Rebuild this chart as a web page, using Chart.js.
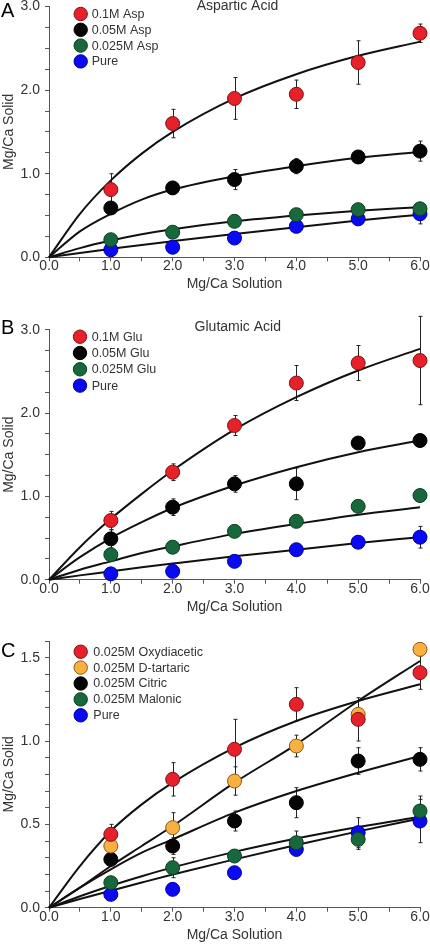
<!DOCTYPE html>
<html><head><meta charset="utf-8">
<script src="https://cdn.jsdelivr.net/npm/chart.js@4.4.1/dist/chart.umd.min.js"></script>
<style>
html,body{margin:0;padding:0;background:#fff;width:430px;height:944px;overflow:hidden;position:relative;font-family:"Liberation Sans",Arial,sans-serif;}
canvas{position:absolute;left:0;}
.lbl{position:absolute;left:1px;font-size:20px;line-height:20px;color:#000;z-index:5;}
</style></head><body>
<canvas id="cA" width="430" height="310" style="top:-10px;width:430px;height:310px"></canvas>
<canvas id="cB" width="430" height="320" style="top:300px;width:430px;height:320px"></canvas>
<canvas id="cC" width="430" height="324" style="top:620px;width:430px;height:324px"></canvas>
<div class="lbl" style="top:0px">A</div>
<div class="lbl" style="top:317px">B</div>
<div class="lbl" style="top:640px">C</div>
<script>
// ---------- shared axis values ----------
const xVals = [1, 2, 3, 4, 5, 6];
const fitX = [0, 0.5, 1, 1.5, 2, 3, 4, 5, 6];
const xAxisTitle = 'Mg/Ca Solution';
const yAxisTitle = 'Mg/Ca Solid';

// ---------- Panel A: Aspartic Acid ----------
const titleA = 'Aspartic Acid';
const labelsA = ['0.1M Asp', '0.05M Asp', '0.025M Asp', 'Pure'];
const asp01 = [0.81, 1.60, 1.90, 1.95, 2.33, 2.68];
const asp01Err = [0.19, 0.17, 0.25, 0.17, 0.26, 0.11];
const asp01Fit = [0, 0.52, 0.92, 1.24, 1.50, 1.90, 2.19, 2.41, 2.58];
const asp005 = [0.59, 0.83, 0.93, 1.09, 1.20, 1.27];
const asp005Err = [0.04, 0.04, 0.12, 0.09, 0.03, 0.12];
const asp005Fit = [0, 0.31, 0.52, 0.69, 0.81, 0.97, 1.09, 1.19, 1.26];
const asp0025 = [0.21, 0.30, 0.43, 0.51, 0.57, 0.58];
const asp0025Err = [0.03, 0.03, 0.03, 0.03, 0.03, 0.03];
const asp0025Fit = [0, 0.11, 0.20, 0.275, 0.335, 0.43, 0.50, 0.556, 0.60];
const pureA = [0.09, 0.12, 0.23, 0.37, 0.46, 0.52];
const pureAErr = [0.02, 0.02, 0.03, 0.03, 0.08, 0.12];
const pureAFit = [0, 0.052, 0.10, 0.148, 0.193, 0.28, 0.36, 0.44, 0.51];

// ---------- Panel B: Glutamic Acid ----------
const titleB = 'Glutamic Acid';
const labelsB = ['0.1M Glu', '0.05M Glu', '0.025M Glu', 'Pure'];
const glu01 = [0.71, 1.29, 1.85, 2.36, 2.60, 2.63];
const glu01Err = [0.11, 0.10, 0.12, 0.21, 0.21, 0.53];
const glu01Fit = [0, 0.39, 0.73, 1.03, 1.31, 1.80, 2.19, 2.51, 2.77];
const glu005 = [0.49, 0.87, 1.15, 1.15, 1.64, 1.67];
const glu005Err = [0.11, 0.10, 0.10, 0.19, 0.02, 0.02];
const glu005Fit = [0, 0.27, 0.50, 0.69, 0.86, 1.13, 1.35, 1.53, 1.67];
const glu0025 = [0.30, 0.39, 0.58, 0.70, 0.88, 1.01];
const glu0025Err = [0.02, 0.02, 0.02, 0.02, 0.02, 0.02];
const glu0025Fit = [0, 0.12, 0.22, 0.32, 0.40, 0.55, 0.67, 0.78, 0.87];
const pureB = [0.07, 0.10, 0.22, 0.36, 0.45, 0.51];
const pureBErr = [0.02, 0.02, 0.02, 0.03, 0.07, 0.13];
const pureBFit = [0, 0.052, 0.10, 0.148, 0.193, 0.28, 0.36, 0.44, 0.51];

// ---------- Panel C: other acids ----------
const labelsC = ['0.025M Oxydiacetic', '0.025M D-tartaric', '0.025M Citric', '0.025M Malonic', 'Pure'];
const oxy = [0.44, 0.77, 0.95, 1.22, 1.13, 1.41];
const oxyErr = [0.06, 0.10, 0.18, 0.10, 0.13, 0.10];
const oxyFit = [0, 0.25, 0.46, 0.62, 0.75, 0.96, 1.12, 1.24, 1.34];
const tart = [0.37, 0.48, 0.76, 0.97, 1.16, 1.55];
const tartErr = [0.04, 0.09, 0.085, 0.065, 0.03, 0.03];
const tartFit = [0, 0.12, 0.25, 0.37, 0.49, 0.75, 0.98, 1.24, 1.48];
const citric = [0.29, 0.37, 0.52, 0.63, 0.88, 0.89];
const citricErr = [0.03, 0.05, 0.06, 0.09, 0.08, 0.07];
const citricFit = [0, 0.12, 0.23, 0.33, 0.41, 0.57, 0.70, 0.81, 0.91];
const malonic = [0.15, 0.24, 0.31, 0.39, 0.41, 0.58];
const malonicErr = [0.02, 0.06, 0.03, 0.07, 0.06, 0.09];
const malonicFit = [0, 0.069, 0.132, 0.189, 0.242, 0.335, 0.415, 0.484, 0.545];
const pureC = [0.08, 0.11, 0.21, 0.35, 0.45, 0.52];
const pureCErr = [0.02, 0.02, 0.02, 0.04, 0.09, 0.13];
const pureCFit = [0, 0.052, 0.102, 0.151, 0.199, 0.29, 0.376, 0.458, 0.535];

// ---------- styles ----------
const FONT = '"Liberation Sans", Arial, sans-serif';
const TXT = '#333';
const AX = '#555';
const COL = {
  red:    {fill: '#e8202a', line: '#7a1414'},
  black:  {fill: '#050505', line: '#000000'},
  green:  {fill: '#17683a', line: '#0c3d20'},
  blue:   {fill: '#0a0af2', line: '#00009a'},
  orange: {fill: '#f9b041', line: '#8c5a14'}
};

Chart.defaults.font.family = FONT;

const errorBars = {
  id: 'errorBars',
  beforeDatasetsDraw(chart) {
    const ctx = chart.ctx, xs = chart.scales.x, ys = chart.scales.y;
    ctx.save();
    ctx.strokeStyle = '#222';
    ctx.lineWidth = 1;
    chart.data.datasets.forEach(ds => {
      if (!ds.errors) return;
      ds.data.forEach((p, i) => {
        const e = ds.errors[i];
        if (!e) return;
        const px = Math.round(xs.getPixelForValue(p.x)) + 0.5;
        const y1 = ys.getPixelForValue(p.y + e);
        const y2 = ys.getPixelForValue(p.y - e);
        ctx.beginPath();
        ctx.moveTo(px, y1); ctx.lineTo(px, y2);
        ctx.moveTo(px - 2, y1); ctx.lineTo(px + 2, y1);
        ctx.moveTo(px - 2, y2); ctx.lineTo(px + 2, y2);
        ctx.stroke();
      });
    });
    ctx.restore();
  }
};

const decor = {
  id: 'decor',
  afterDraw(chart, args, o) {
    const ctx = chart.ctx, ca = chart.chartArea;
    ctx.save();
    // title
    ctx.font = '14px ' + FONT;
    ctx.fillStyle = TXT;
    ctx.textAlign = 'center';
    ctx.textBaseline = 'alphabetic';
    ctx.fillText(o.title || '', o.titleX, ca.top + o.titleDy);
    // legend
    ctx.font = '12.5px ' + FONT;
    ctx.textAlign = 'left';
    ctx.textBaseline = 'middle';
    let k = 0;
    chart.data.datasets.forEach(ds => {
      if (!ds.legend) return;
      const cy = ca.top + o.legDy + k * o.legStep;
      ctx.beginPath();
      ctx.arc(o.legX, cy, 6.7, 0, Math.PI * 2);
      ctx.fillStyle = ds.backgroundColor;
      ctx.fill();
      ctx.lineWidth = 1;
      ctx.strokeStyle = ds.borderColor;
      ctx.stroke();
      ctx.fillStyle = TXT;
      ctx.fillText(ds.label, o.legTextX, cy + 0.5);
      k++;
    });
    ctx.restore();
  }
};

function series(label, vals, errs, fit, c) {
  return [
    {label: label, legend: true, data: xVals.map((x, i) => ({x: x, y: vals[i]})), errors: errs,
     backgroundColor: c.fill, borderColor: c.line, borderWidth: 1, pointRadius: 7, pointHoverRadius: 7,
     showLine: false, order: 1, clip: false},
    {label: label + ' fit', data: fitX.map((x, i) => ({x: x, y: fit[i]})),
     borderColor: '#111', borderWidth: 2, pointRadius: 0, showLine: true, fill: false,
     cubicInterpolationMode: 'monotone', order: 2, clip: false}
  ];
}

function labelCb(step) {
  return function (v) {
    const r = Math.round(v / step) * step;
    return Math.abs(v - r) < 1e-6 ? Number(v).toFixed(1) : '';
  };
}

function makeChart(id, datasets, yMax, yStep, yLabelStep, pad, xH, deco) {
  return new Chart(document.getElementById(id), {
    type: 'scatter',
    data: {datasets: datasets},
    plugins: [errorBars, decor],
    options: {
      responsive: false, animation: false, devicePixelRatio: 1,
      layout: {padding: pad},
      plugins: {legend: {display: false}, tooltip: {enabled: false}, decor: deco},
      scales: {
        x: {
          type: 'linear', min: 0, max: 6,
          afterFit: s => { s.height = xH; },
          ticks: {stepSize: 0.5, autoSkip: false, maxRotation: 0, padding: -2, color: TXT,
                  font: {size: 14, lineHeight: 1}, callback: labelCb(1)},
          grid: {drawOnChartArea: false, drawTicks: true, tickLength: 4, color: AX},
          border: {display: true, color: AX, width: 1},
          title: {display: true, text: xAxisTitle, color: TXT, font: {size: 14}, padding: {top: 0, bottom: 0}}
        },
        y: {
          type: 'linear', min: 0, max: yMax,
          afterFit: s => { s.width = 49; },
          ticks: {stepSize: yStep, autoSkip: false, padding: 5, color: TXT,
                  font: {size: 14, lineHeight: 1}, callback: labelCb(yLabelStep)},
          grid: {drawOnChartArea: false, drawTicks: true, tickLength: 4, color: AX},
          border: {display: true, color: AX, width: 1},
          title: {display: true, text: yAxisTitle, color: TXT, font: {size: 14}, padding: {top: 1, bottom: 0}}
        }
      }
    }
  });
}

const dsA = [].concat(
  series(labelsA[0], asp01, asp01Err, asp01Fit, COL.red),
  series(labelsA[1], asp005, asp005Err, asp005Fit, COL.black),
  series(labelsA[2], asp0025, asp0025Err, asp0025Fit, COL.green),
  series(labelsA[3], pureA, pureAErr, pureAFit, COL.blue)
);
const dsB = [].concat(
  series(labelsB[0], glu01, glu01Err, glu01Fit, COL.red),
  series(labelsB[1], glu005, glu005Err, glu005Fit, COL.black),
  series(labelsB[2], glu0025, glu0025Err, glu0025Fit, COL.green),
  series(labelsB[3], pureB, pureBErr, pureBFit, COL.blue)
);
const dsC = [].concat(
  series(labelsC[0], oxy, oxyErr, oxyFit, COL.red),
  series(labelsC[1], tart, tartErr, tartFit, COL.orange),
  series(labelsC[2], citric, citricErr, citricFit, COL.black),
  series(labelsC[3], malonic, malonicErr, malonicFit, COL.green),
  series(labelsC[4], pureC, pureCErr, pureCFit, COL.blue)
);

makeChart('cA', dsA, 3, 0.25, 1, {top: 16.5, right: 10, bottom: 7.3, left: 0}, 35.4,
  {title: titleA, titleX: 237.5, titleDy: 3.5, legX: 80.7, legTextX: 91.7, legDy: 7.5, legStep: 15.8});
makeChart('cB', dsB, 3, 0.25, 1, {top: 29.7, right: 10, bottom: 4.9, left: 0}, 35.4,
  {title: titleB, titleX: 237.8, titleDy: 1.0, legX: 80, legTextX: 91.7, legDy: 7, legStep: 16.3});
makeChart('cC', dsC, 1.6, 0.1, 0.5, {top: 21, right: 10, bottom: 0.6, left: 0}, 35.7,
  {title: '', titleX: 0, titleDy: 0, legX: 80.7, legTextX: 93.3, legDy: 10.7, legStep: 15.9});
</script>
</body></html>
